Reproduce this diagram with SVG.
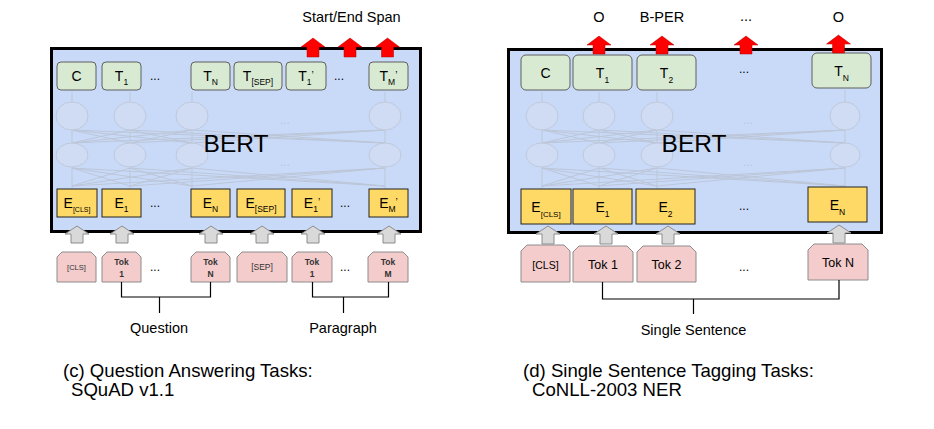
<svg xmlns="http://www.w3.org/2000/svg" width="934" height="429" viewBox="0 0 934 429">
<style>
text{font-family:"Liberation Sans",Arial,Helvetica,sans-serif;fill:#000}
.panel{fill:#c9daf8;stroke:#000;stroke-width:3}
.tbox{fill:#d9ead3;stroke:#5f5f5f;stroke-width:1}
.ebox{fill:#ffd966;stroke:#222;stroke-width:1}
.tok{fill:#f4cccc;stroke:#8c8c8c;stroke-width:1}
.red{fill:#ff0000;stroke:#b00000;stroke-width:0.5}
.gray{fill:#d9d9d9;stroke:#8c8c8c;stroke-width:1}
.net line{stroke:#bcc6d8;stroke-width:1}
.net ellipse{fill:#cfdcf4;stroke:#c0c9da;stroke-width:1}
.brk{fill:none;stroke:#000;stroke-width:1.2}
.lbl{font-size:14.5px;text-anchor:middle}
.m{font-size:14px;text-anchor:middle}
.s{font-size:8.5px}
.cap{font-size:18.6px}
.dots{font-size:12px;text-anchor:middle}
.fdots{font-size:12px;text-anchor:middle;fill:#bcc6d8}
.tk{font-size:8.5px;text-anchor:middle;font-weight:bold;fill:#333}
.tk2{font-size:12.5px;text-anchor:middle}
</style>

<!-- ===== Panel (c) ===== -->
<g id="panel-c">
<rect class="panel" x="51.5" y="48.5" width="369" height="183"/>
<g class="net">
<line x1="72" y1="189" x2="72" y2="167"/><line x1="72" y1="143" x2="72" y2="130"/><line x1="72" y1="102" x2="72" y2="92"/>
<line x1="130" y1="189" x2="130" y2="167"/><line x1="130" y1="143" x2="130" y2="130"/><line x1="130" y1="102" x2="130" y2="92"/>
<line x1="192" y1="189" x2="192" y2="167"/><line x1="192" y1="143" x2="192" y2="130"/><line x1="192" y1="102" x2="192" y2="92"/>
<line x1="385" y1="189" x2="385" y2="167"/><line x1="385" y1="143" x2="385" y2="130"/><line x1="385" y1="102" x2="385" y2="92"/>
<line x1="72" y1="186" x2="130" y2="168"/><line x1="72" y1="186" x2="192" y2="168"/><line x1="72" y1="186" x2="385" y2="168"/>
<line x1="130" y1="186" x2="72" y2="168"/><line x1="130" y1="186" x2="192" y2="168"/><line x1="130" y1="186" x2="385" y2="168"/>
<line x1="192" y1="186" x2="72" y2="168"/><line x1="192" y1="186" x2="130" y2="168"/><line x1="192" y1="186" x2="385" y2="168"/>
<line x1="385" y1="186" x2="72" y2="168"/><line x1="385" y1="186" x2="130" y2="168"/><line x1="385" y1="186" x2="192" y2="168"/>
<line x1="72" y1="143" x2="130" y2="130"/><line x1="72" y1="143" x2="192" y2="130"/><line x1="72" y1="143" x2="385" y2="130"/>
<line x1="130" y1="143" x2="72" y2="130"/><line x1="130" y1="143" x2="192" y2="130"/><line x1="130" y1="143" x2="385" y2="130"/>
<line x1="192" y1="143" x2="72" y2="130"/><line x1="192" y1="143" x2="130" y2="130"/><line x1="192" y1="143" x2="385" y2="130"/>
<line x1="385" y1="143" x2="72" y2="130"/><line x1="385" y1="143" x2="130" y2="130"/><line x1="385" y1="143" x2="192" y2="130"/>
<ellipse cx="72" cy="116" rx="16" ry="14"/><ellipse cx="130" cy="116" rx="16" ry="14"/><ellipse cx="192" cy="116" rx="16" ry="14"/><ellipse cx="385" cy="116" rx="16" ry="14"/>
<ellipse cx="72" cy="155" rx="16" ry="12"/><ellipse cx="130" cy="155" rx="16" ry="12"/><ellipse cx="192" cy="155" rx="16" ry="12"/><ellipse cx="385" cy="155" rx="16" ry="12"/>
<text class="fdots" x="285" y="124">...</text><text class="fdots" x="285" y="166">...</text>
</g>
<text x="236" y="152" style="font-size:24.5px;text-anchor:middle">BERT</text>
</g>

<g id="c-top">
<g id="c-T-C"><rect class="tbox" x="57" y="62" width="39" height="28" rx="4"/><text class="m" x="76.5" y="81">C</text></g>
<g id="c-T-1"><rect class="tbox" x="102" y="62" width="39" height="28" rx="4"/><text class="m" x="121.5" y="81">T<tspan class="s" dy="4">1</tspan></text></g>
<text class="dots" x="155" y="80">...</text>
<g id="c-T-N"><rect class="tbox" x="191" y="62" width="39" height="28" rx="4"/><text class="m" x="210.5" y="81">T<tspan class="s" dy="4">N</tspan></text></g>
<g id="c-T-SEP"><rect class="tbox" x="234" y="62" width="48" height="28" rx="4"/><text class="m" x="258" y="81">T<tspan class="s" dy="4">[SEP]</tspan></text></g>
<g id="c-T-1p"><rect class="tbox" x="286" y="62" width="40" height="28" rx="4"/><text class="m" x="306" y="81">T<tspan class="s" dy="4">1</tspan><tspan dy="-6" style="font-size:10px">’</tspan></text></g>
<text class="dots" x="339" y="80">...</text>
<g id="c-T-Mp"><rect class="tbox" x="369" y="62" width="39" height="28" rx="4"/><text class="m" x="388.5" y="81">T<tspan class="s" dy="4">M</tspan><tspan dy="-6" style="font-size:10px">’</tspan></text></g>
</g>

<g id="c-emb">
<g id="c-E-CLS"><rect class="ebox" x="57" y="189" width="40" height="28"/><text class="m" x="77" y="208">E<tspan dy="4" style="font-size:7px">[CLS]</tspan></text></g>
<g id="c-E-1"><rect class="ebox" x="102" y="189" width="39" height="28"/><text class="m" x="121.5" y="208">E<tspan class="s" dy="4">1</tspan></text></g>
<text class="dots" x="155" y="207">...</text>
<g id="c-E-N"><rect class="ebox" x="191" y="189" width="39" height="28"/><text class="m" x="210.5" y="208">E<tspan class="s" dy="4">N</tspan></text></g>
<g id="c-E-SEP"><rect class="ebox" x="237" y="189" width="48" height="28"/><text class="m" x="261" y="208">E<tspan class="s" dy="4">[SEP]</tspan></text></g>
<g id="c-E-1p"><rect class="ebox" x="292" y="189" width="40" height="28"/><text class="m" x="312" y="208">E<tspan class="s" dy="4">1</tspan><tspan dy="-6" style="font-size:10px">’</tspan></text></g>
<text class="dots" x="345" y="207">...</text>
<g id="c-E-Mp"><rect class="ebox" x="369" y="189" width="39" height="28"/><text class="m" x="388.5" y="208">E<tspan class="s" dy="4">M</tspan><tspan dy="-6" style="font-size:10px">’</tspan></text></g>
</g>

<g id="c-tokens">
<g id="c-tok-CLS"><path class="tok" d="M57,257 L62,252 L91,252 L96,257 L96,282 L57,282 Z"/><text x="76.5" y="270" style="font-size:7.5px;text-anchor:middle;fill:#333">[CLS]</text></g>
<g id="c-tok-1"><path class="tok" d="M102,257 L107,252 L136,252 L141,257 L141,282 L102,282 Z"/><text class="tk" x="121.5" y="265">Tok</text><text class="tk" x="121.5" y="277">1</text></g>
<text class="dots" x="155" y="271">...</text>
<g id="c-tok-N"><path class="tok" d="M191,257 L196,252 L225,252 L230,257 L230,282 L191,282 Z"/><text class="tk" x="210.5" y="265">Tok</text><text class="tk" x="210.5" y="277">N</text></g>
<g id="c-tok-SEP"><path class="tok" d="M237,257 L242,252 L282,252 L287,257 L287,282 L237,282 Z"/><text x="262" y="270" style="font-size:8.5px;text-anchor:middle;fill:#333">[SEP]</text></g>
<g id="c-tok-1p"><path class="tok" d="M292,257 L297,252 L327,252 L332,257 L332,282 L292,282 Z"/><text class="tk" x="312" y="265">Tok</text><text class="tk" x="312" y="277">1</text></g>
<text class="dots" x="345" y="271">...</text>
<g id="c-tok-M"><path class="tok" d="M368,257 L373,252 L403,252 L408,257 L408,282 L368,282 Z"/><text class="tk" x="388" y="265">Tok</text><text class="tk" x="388" y="277">M</text></g>
</g>

<g id="c-connectors">
<path class="gray" d="M77,226 L89,234 L83,234 L83,243 L71,243 L71,234 L65,234 Z"/>
<path class="gray" d="M122,226 L134,234 L128,234 L128,243 L116,243 L116,234 L110,234 Z"/>
<path class="gray" d="M211,226 L223,234 L217,234 L217,243 L205,243 L205,234 L199,234 Z"/>
<path class="gray" d="M262,226 L274,234 L268,234 L268,243 L256,243 L256,234 L250,234 Z"/>
<path class="gray" d="M313,226 L325,234 L319,234 L319,243 L307,243 L307,234 L301,234 Z"/>
<path class="gray" d="M389,226 L401,234 L395,234 L395,243 L383,243 L383,234 L377,234 Z"/>
<path class="red" d="M313,38 L325,47 L319,47 L319,57 L307,57 L307,47 L301,47 Z"/>
<path class="red" d="M350,38 L362,47 L356,47 L356,57 L344,57 L344,47 L338,47 Z"/>
<path class="red" d="M387.5,38 L399.5,47 L393.5,47 L393.5,57 L381.5,57 L381.5,47 L375.5,47 Z"/>
<path class="brk" d="M121.5,282 V297 H210.5 V282 M159.5,297 V313"/>
<path class="brk" d="M312.5,282 V297 H388.5 V282 M343.5,297 V313"/>
</g>
<text class="lbl" x="351.5" y="22">Start/End Span</text>
<text class="lbl" x="159" y="333">Question</text>
<text class="lbl" x="343" y="333">Paragraph</text>
<text class="cap" x="63" y="377">(c) Question Answering Tasks:</text>
<text class="cap" x="71" y="396">SQuAD v1.1</text>

<!-- ===== Panel (d) ===== -->
<g id="panel-d">
<rect class="panel" x="508.5" y="49.5" width="373" height="183"/>
<g class="net">
<line x1="542" y1="189" x2="542" y2="167"/><line x1="542" y1="143" x2="542" y2="130"/><line x1="542" y1="102" x2="542" y2="92"/>
<line x1="599" y1="189" x2="599" y2="167"/><line x1="599" y1="143" x2="599" y2="130"/><line x1="599" y1="102" x2="599" y2="92"/>
<line x1="657" y1="189" x2="657" y2="167"/><line x1="657" y1="143" x2="657" y2="130"/><line x1="657" y1="102" x2="657" y2="92"/>
<line x1="845" y1="187" x2="845" y2="167"/><line x1="845" y1="143" x2="845" y2="130"/><line x1="845" y1="102" x2="845" y2="90"/>
<line x1="542" y1="186" x2="599" y2="168"/><line x1="542" y1="186" x2="657" y2="168"/><line x1="542" y1="186" x2="845" y2="168"/>
<line x1="599" y1="186" x2="542" y2="168"/><line x1="599" y1="186" x2="657" y2="168"/><line x1="599" y1="186" x2="845" y2="168"/>
<line x1="657" y1="186" x2="542" y2="168"/><line x1="657" y1="186" x2="599" y2="168"/><line x1="657" y1="186" x2="845" y2="168"/>
<line x1="845" y1="186" x2="542" y2="168"/><line x1="845" y1="186" x2="599" y2="168"/><line x1="845" y1="186" x2="657" y2="168"/>
<line x1="542" y1="143" x2="599" y2="130"/><line x1="542" y1="143" x2="657" y2="130"/><line x1="542" y1="143" x2="845" y2="130"/>
<line x1="599" y1="143" x2="542" y2="130"/><line x1="599" y1="143" x2="657" y2="130"/><line x1="599" y1="143" x2="845" y2="130"/>
<line x1="657" y1="143" x2="542" y2="130"/><line x1="657" y1="143" x2="599" y2="130"/><line x1="657" y1="143" x2="845" y2="130"/>
<line x1="845" y1="143" x2="542" y2="130"/><line x1="845" y1="143" x2="599" y2="130"/><line x1="845" y1="143" x2="657" y2="130"/>
<ellipse cx="542" cy="116" rx="16" ry="14"/><ellipse cx="599" cy="116" rx="16" ry="14"/><ellipse cx="657" cy="116" rx="16" ry="14"/><ellipse cx="845" cy="116" rx="15" ry="14"/>
<ellipse cx="542" cy="155" rx="16" ry="12"/><ellipse cx="599" cy="155" rx="16" ry="12"/><ellipse cx="657" cy="155" rx="16" ry="12"/><ellipse cx="845" cy="155" rx="15" ry="12"/>
<text class="fdots" x="748" y="124">...</text><text class="fdots" x="748" y="166">...</text>
</g>
<text x="694" y="152" style="font-size:24.5px;text-anchor:middle">BERT</text>
</g>

<g id="d-top">
<g id="d-T-C"><rect class="tbox" x="521" y="55" width="49" height="35" rx="5"/><text class="m" x="545.5" y="78">C</text></g>
<g id="d-T-1"><rect class="tbox" x="573" y="55" width="59" height="35" rx="5"/><text class="m" x="602.5" y="78">T<tspan class="s" dy="5">1</tspan></text></g>
<g id="d-T-2"><rect class="tbox" x="637" y="55" width="59" height="35" rx="5"/><text class="m" x="666.5" y="78">T<tspan class="s" dy="5">2</tspan></text></g>
<text class="dots" x="744" y="73">...</text>
<g id="d-T-N"><rect class="tbox" x="812" y="53" width="59" height="35" rx="5"/><text class="m" x="841.5" y="76">T<tspan class="s" dy="5">N</tspan></text></g>
</g>

<g id="d-emb">
<g id="d-E-CLS"><rect class="ebox" x="521" y="189" width="50" height="35"/><text class="m" x="546" y="212">E<tspan dy="5" style="font-size:8px">[CLS]</tspan></text></g>
<g id="d-E-1"><rect class="ebox" x="573" y="189" width="59" height="35"/><text class="m" x="602.5" y="212">E<tspan class="s" dy="5">1</tspan></text></g>
<g id="d-E-2"><rect class="ebox" x="636" y="189" width="59" height="35"/><text class="m" x="665.5" y="212">E<tspan class="s" dy="5">2</tspan></text></g>
<text class="dots" x="744" y="210">...</text>
<g id="d-E-N"><rect class="ebox" x="808" y="187" width="59" height="35"/><text class="m" x="837.5" y="210">E<tspan class="s" dy="5">N</tspan></text></g>
</g>

<g id="d-tokens">
<g id="d-tok-CLS"><path class="tok" d="M521,251 L527,245 L564,245 L570,251 L570,282 L521,282 Z"/><text x="545.5" y="269" style="font-size:10.5px;text-anchor:middle">[CLS]</text></g>
<g id="d-tok-1"><path class="tok" d="M573,252 L579,246 L627,246 L633,252 L633,282 L573,282 Z"/><text class="tk2" x="603" y="269">Tok 1</text></g>
<g id="d-tok-2"><path class="tok" d="M637,252 L643,246 L690,246 L696,252 L696,282 L637,282 Z"/><text class="tk2" x="666.5" y="269">Tok 2</text></g>
<text class="dots" x="744" y="271">...</text>
<g id="d-tok-N"><path class="tok" d="M808,250 L814,244 L862,244 L868,250 L868,280 L808,280 Z"/><text class="tk2" x="838" y="267">Tok N</text></g>
</g>

<g id="d-connectors">
<path class="gray" d="M548,226 L560,234 L554,234 L554,244 L542,244 L542,234 L536,234 Z"/>
<path class="gray" d="M606,226 L618,234 L612,234 L612,244 L600,244 L600,234 L594,234 Z"/>
<path class="gray" d="M668,226 L680,234 L674,234 L674,244 L662,244 L662,234 L656,234 Z"/>
<path class="gray" d="M839,225 L851,233 L845,233 L845,243 L833,243 L833,233 L827,233 Z"/>
<path class="red" d="M599,36 L611,45 L605,45 L605,54 L593,54 L593,45 L587,45 Z"/>
<path class="red" d="M662,36 L674,45 L668,45 L668,54 L656,54 L656,45 L650,45 Z"/>
<path class="red" d="M746,36 L758,45 L752,45 L752,54 L740,54 L740,45 L734,45 Z"/>
<path class="red" d="M838.5,35 L850.5,44 L844.5,44 L844.5,53 L832.5,53 L832.5,44 L826.5,44 Z"/>
<path class="brk" d="M602.5,282 V299 H839 V280 M693.5,299 V314"/>
</g>
<text class="lbl" x="599" y="22">O</text>
<text class="lbl" x="662" y="22">B-PER</text>
<text class="lbl" x="746" y="21">...</text>
<text class="lbl" x="838.5" y="22">O</text>
<text class="lbl" x="693.5" y="335">Single Sentence</text>
<text class="cap" x="523" y="377">(d) Single Sentence Tagging Tasks:</text>
<text class="cap" x="532" y="396">CoNLL-2003 NER</text>
</svg>
